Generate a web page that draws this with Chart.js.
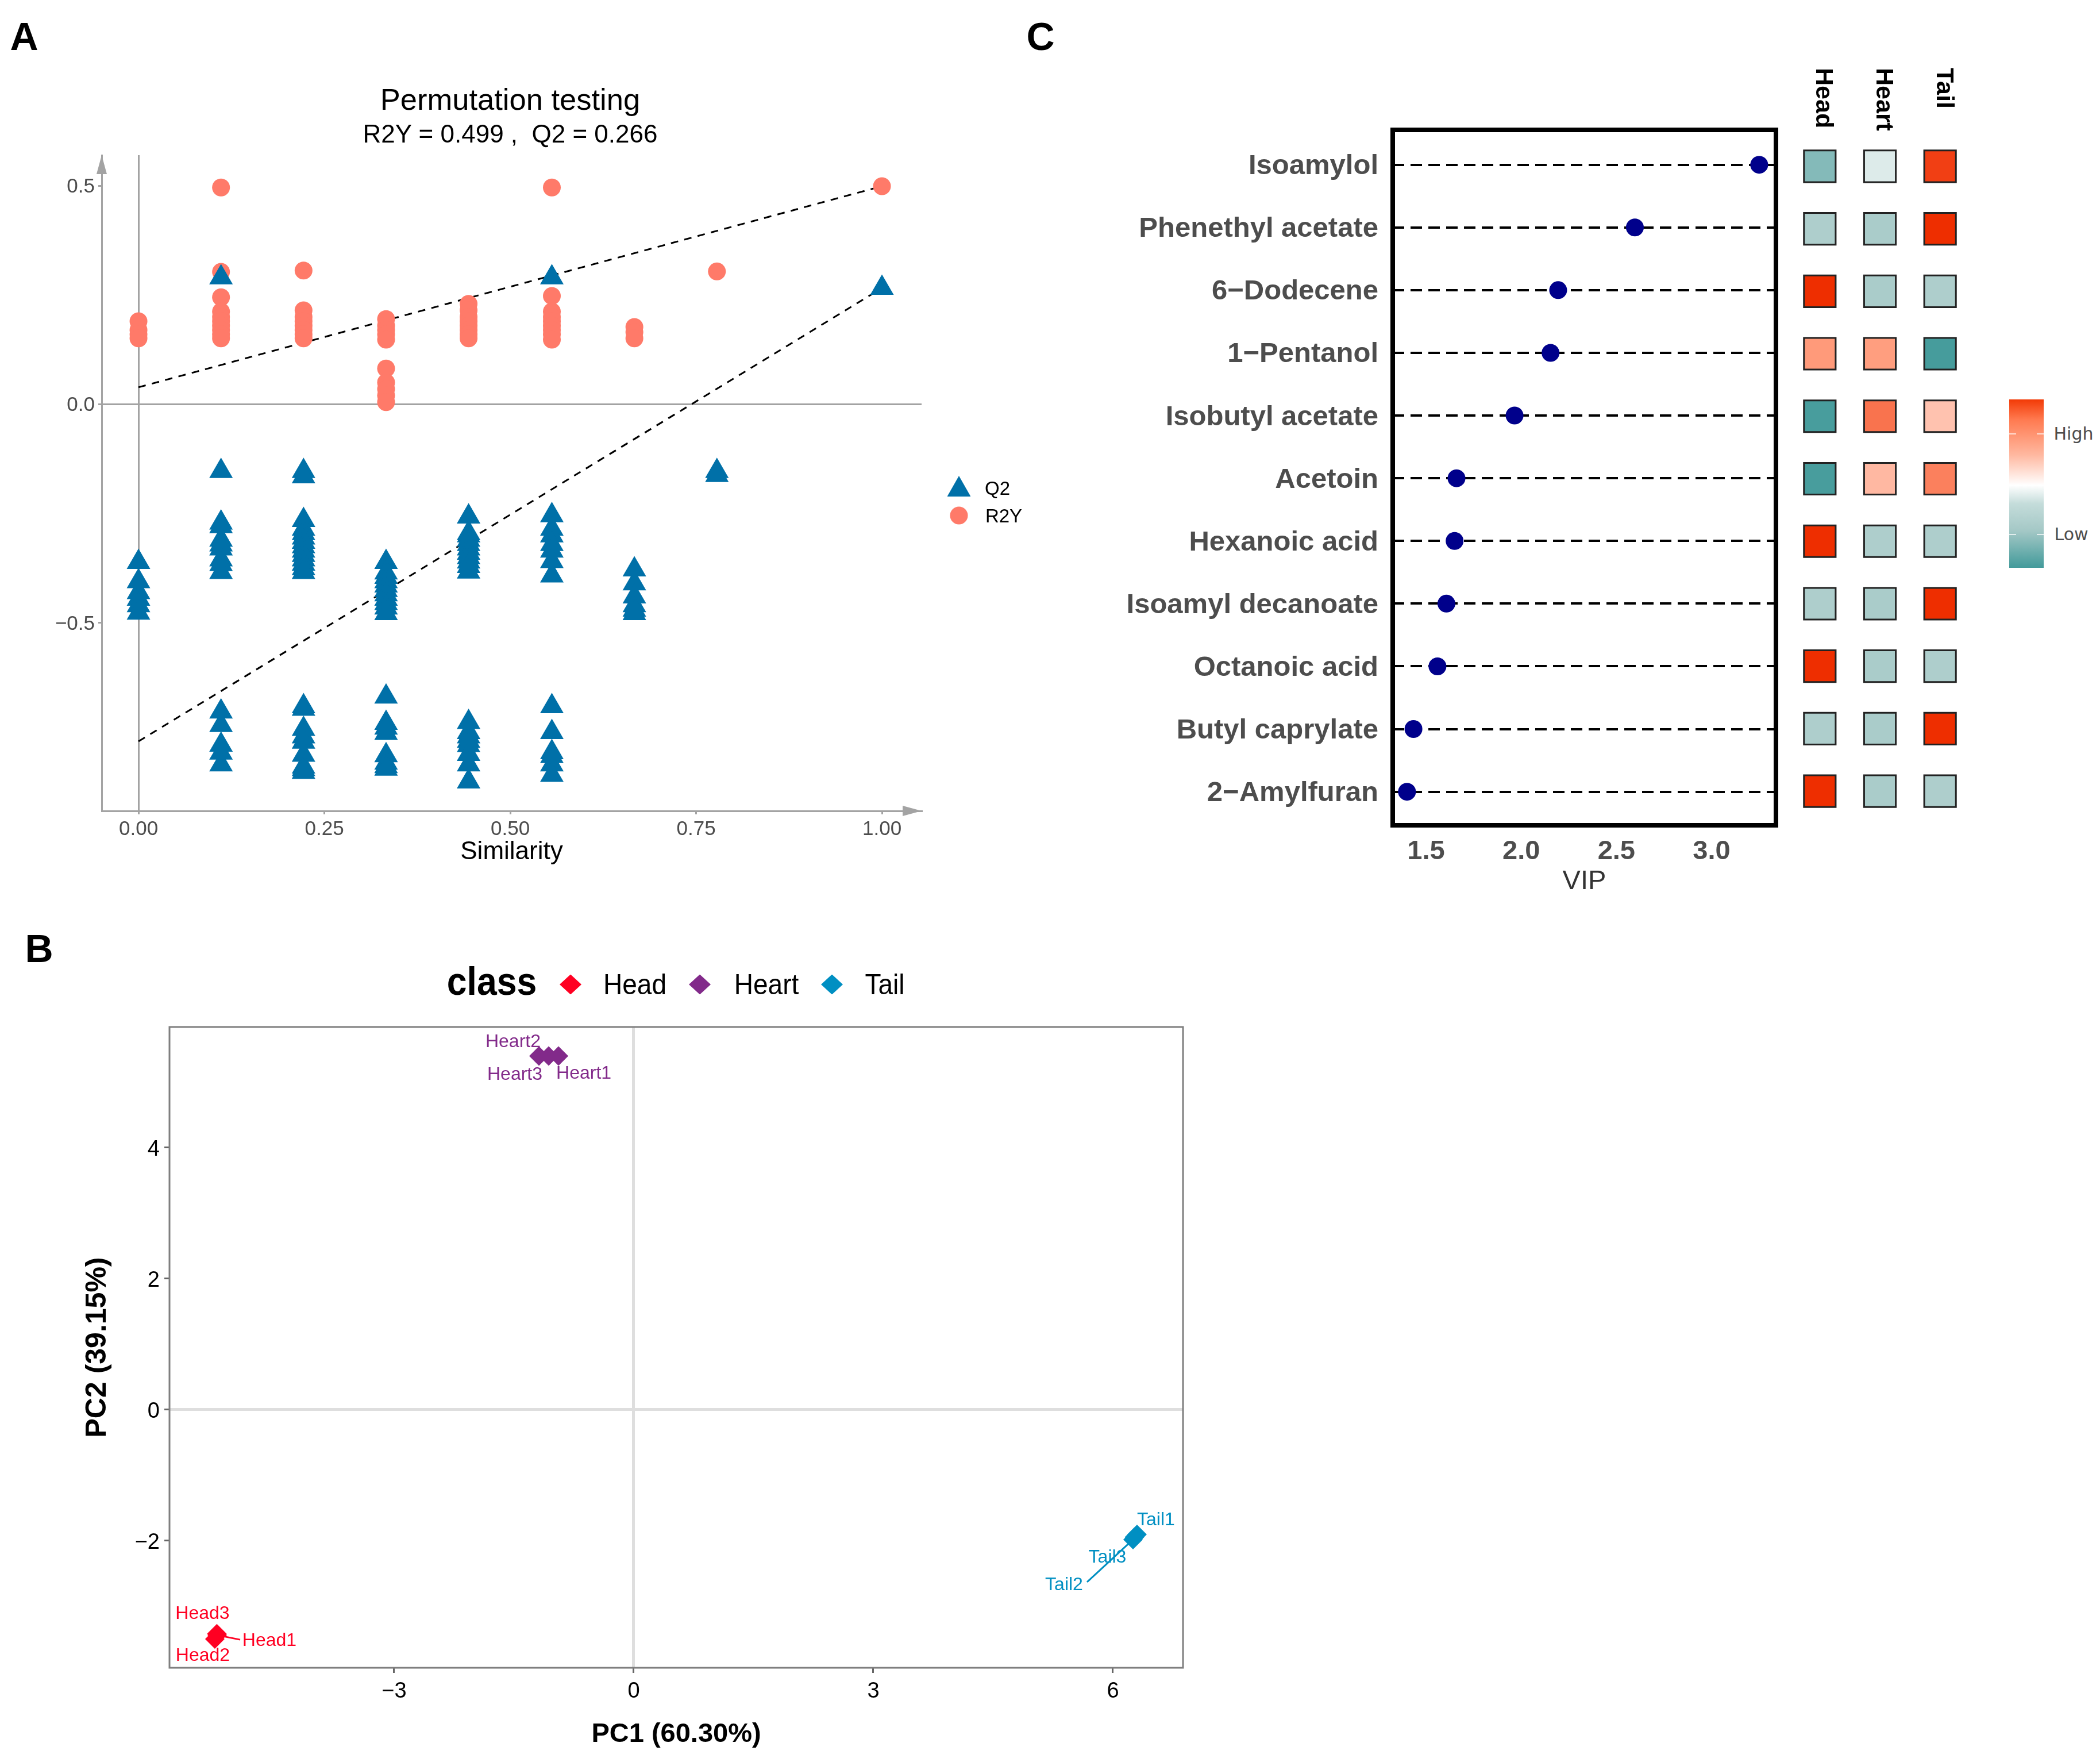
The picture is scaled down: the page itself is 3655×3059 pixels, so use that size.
<!DOCTYPE html>
<html>
<head>
<meta charset="utf-8">
<script src="https://cdn.jsdelivr.net/npm/chart.js@4/dist/chart.umd.js"></script>
<style>
  html, body { margin: 0; background: #fff; }
  body { position: relative; width: 3655px; height: 3059px; overflow: hidden; font-family: "Liberation Sans", sans-serif; }
  canvas { position: absolute; }
  .t { position: absolute; white-space: pre; transform: translate(-50%, -50%); line-height: 1; }
  .key { position: absolute; transform: translate(-50%, -50%); }
  .tri { clip-path: polygon(50% 0, 100% 100%, 0 100%); }
  .dia { clip-path: polygon(50% 0, 100% 50%, 50% 100%, 0 50%); }
  .dot { border-radius: 50%; }
</style>
</head>
<body>
<canvas id="permChart"></canvas>
<canvas id="pcaChart"></canvas>
<canvas id="vipChart"></canvas>
<canvas id="heatChart"></canvas>
<script>
// panel A: permutation test
const similarity = [0, 0.111, 0.222, 0.333, 0.444, 0.556, 0.667, 0.778, 1];
const r2yValues = [
  [0.19, 0.17, 0.16, 0.151],
  [0.496, 0.303, 0.245, 0.212, 0.2, 0.19, 0.18, 0.17, 0.16, 0.151],
  [0.306, 0.215, 0.2, 0.19, 0.18, 0.17, 0.16, 0.151],
  [0.195, 0.18, 0.17, 0.16, 0.148, 0.082, 0.05, 0.035, 0.02, 0.005],
  [0.23, 0.215, 0.2, 0.19, 0.18, 0.17, 0.16, 0.151],
  [0.496, 0.248, 0.212, 0.2, 0.19, 0.18, 0.17, 0.16, 0.148],
  [0.177, 0.165, 0.151],
  [0.304],
  [0.499]
];
const q2Values = [
  [-0.361, -0.405, -0.43, -0.445, -0.46, -0.477],
  [0.29, -0.153, -0.271, -0.279, -0.31, -0.321, -0.33, -0.355, -0.366, -0.384, -0.703, -0.734, -0.779, -0.797, -0.824],
  [-0.153, -0.165, -0.265, -0.285, -0.295, -0.305, -0.315, -0.325, -0.335, -0.345, -0.355, -0.365, -0.375, -0.384, -0.691, -0.697, -0.743, -0.76, -0.772, -0.802, -0.829, -0.835, -0.841],
  [-0.361, -0.385, -0.395, -0.405, -0.415, -0.425, -0.435, -0.445, -0.455, -0.465, -0.478, -0.669, -0.729, -0.74, -0.752, -0.803, -0.82, -0.828, -0.834],
  [-0.257, -0.295, -0.3, -0.31, -0.32, -0.33, -0.34, -0.35, -0.36, -0.37, -0.383, -0.727, -0.75, -0.76, -0.77, -0.78, -0.8, -0.824, -0.863],
  [0.29, -0.254, -0.285, -0.3, -0.32, -0.335, -0.359, -0.392, -0.691, -0.75, -0.796, -0.805, -0.824, -0.848],
  [-0.378, -0.41, -0.44, -0.46, -0.47, -0.478],
  [-0.153, -0.162],
  [0.266]
];
const r2yFit = [0.039, 0.499];
const q2Fit = [-0.771, 0.266];
const permXTicks = [0, 0.25, 0.5, 0.75, 1];
const permYTicks = [-0.5, 0, 0.5];

// panel B: PCA
const pcaGroups = ["Head", "Heart", "Tail"];
const pcaNames = [["Head1", "Head2", "Head3"], ["Heart1", "Heart2", "Heart3"], ["Tail1", "Tail2", "Tail3"]];
const pc1Values = [[-5.216, -5.245, -5.22], [-0.942, -1.065, -1.187], [6.302, 6.252, 6.27]];
const pc2Values = [[-3.44, -3.5, -3.42], [5.4, 5.4, 5.4], [-1.904, -1.982, -1.945]];
const pcaXTicks = [-3, 0, 3, 6];
const pcaYTicks = [-2, 0, 2, 4];

// panel C: VIP and heat cells
const compounds = ["Isoamylol", "Phenethyl acetate", "6−Dodecene", "1−Pentanol", "Isobutyl acetate", "Acetoin", "Hexanoic acid", "Isoamyl decanoate", "Octanoic acid", "Butyl caprylate", "2−Amylfuran"];
const vipValues = [3.25, 2.597, 2.194, 2.154, 1.965, 1.66, 1.65, 1.607, 1.56, 1.434, 1.4];
const vipTicks = [1.5, 2, 2.5, 3];
const heatColumns = ["Head", "Heart", "Tail"];
const heatHead = [-0.65, -0.43, 1, 0.5, -0.97, -0.97, 1, -0.43, 1, -0.43, 1];
const heatHeart = [-0.18, -0.45, -0.45, 0.48, 0.68, 0.35, -0.43, -0.45, -0.45, -0.45, -0.45];
const heatTail = [0.92, 1, -0.43, -0.98, 0.3, 0.62, -0.43, 1, -0.43, 1, -0.43];

const GREY = "#a3a3a3", TXT = "#4d4d4d";
const groupColors = ["#ff0022", "#822a8a", "#008fc2"];
Chart.defaults.font.family = '"Liberation Sans", sans-serif';
Chart.defaults.animation = false;
Chart.defaults.devicePixelRatio = 1;
Chart.defaults.responsive = false;
Chart.defaults.layout.autoPadding = false; // plot areas are pinned, no room made for the big points

// put a canvas on the page so that the plot area lands on rect {l,t,r,b}
// margins must be wider than half a tick label or chart.js moves the plot area in
function place(id, rect, m) {
  const c = document.getElementById(id);
  c.width = rect.r - rect.l + m.l + m.r;
  c.height = rect.b - rect.t + m.t + m.b;
  c.style.left = (rect.l - m.l) + "px";
  c.style.top = (rect.t - m.t) + "px";
  return c;
}
const fixW = w => s => { s.width = w; };
const fixH = h => s => { s.height = h; };
const useTicks = vals => s => { s.ticks = vals.map(v => ({ value: v })); };
const minus = s => String(s).replace("-", "−");

function addText(txt, x, y, css) {
  const d = document.createElement("div");
  d.className = "t";
  d.textContent = txt;
  d.style.left = x + "px";
  d.style.top = y + "px";
  d.style.cssText += css;
  document.body.appendChild(d);
  return d;
}
function addKey(cls, x, y, w, h, color) {
  const d = document.createElement("div");
  d.className = "key " + cls;
  d.style.cssText = `left:${x}px;top:${y}px;width:${w}px;height:${h}px;background:${color}`;
  document.body.appendChild(d);
}

// ---------- A ----------
const permRect = { l: 177, t: 270, r: 1604, b: 1411 };
const permM = { l: 120, t: 60, r: 60, b: 102 };
const flat = lists => lists.flatMap((vals, i) => vals.map(v => ({ x: similarity[i], y: v })));

const axisArrows = {
  id: "axisArrows",
  afterDatasetsDraw(chart) {
    const { ctx, chartArea: a } = chart;
    ctx.save();
    ctx.fillStyle = GREY;
    ctx.beginPath();
    ctx.moveTo(a.left, a.top); ctx.lineTo(a.left - 9, a.top + 33); ctx.lineTo(a.left + 9, a.top + 33);
    ctx.closePath(); ctx.fill();
    ctx.beginPath();
    ctx.moveTo(a.right, a.bottom); ctx.lineTo(a.right - 33, a.bottom - 9); ctx.lineTo(a.right - 33, a.bottom + 9);
    ctx.closePath(); ctx.fill();
    ctx.restore();
  }
};
const fitLine = vals => ({
  data: [{ x: 0, y: vals[0] }, { x: 1, y: vals[1] }],
  showLine: true, pointRadius: 0, borderColor: "#000", borderWidth: 3, borderDash: [13, 11], clip: false
});
new Chart(place("permChart", permRect, permM), {
  type: "scatter",
  data: {
    datasets: [
      { label: "Q2", data: flat(q2Values), pointStyle: "triangle", pointRadius: 23.7, backgroundColor: "#0070a8", borderWidth: 0, clip: false },
      { label: "R2Y", data: flat(r2yValues), pointStyle: "circle", pointRadius: 15.5, backgroundColor: "#ff7a69", borderWidth: 0, clip: false },
      fitLine(r2yFit),
      fitLine(q2Fit)
    ]
  },
  options: {
    layout: { padding: { left: 0, top: permM.t, right: permM.r, bottom: 0 } },
    plugins: { legend: { display: false }, tooltip: { enabled: false } },
    scales: {
      x: {
        type: "linear", min: -0.0495, max: 1.0533, afterFit: fixH(permM.b), afterBuildTicks: useTicks(permXTicks),
        border: { color: GREY, width: 3 },
        grid: { color: c => c.tick && c.tick.value === 0 ? GREY : "rgba(0,0,0,0)", lineWidth: 3, tickColor: GREY, tickLength: 6 },
        ticks: { color: TXT, font: { size: 35 }, padding: 5, maxRotation: 0, callback: v => v.toFixed(2) },
        title: { display: true, text: "Similarity", color: "#000", font: { size: 44 }, padding: { top: 0, bottom: 4 } }
      },
      y: {
        min: -0.93, max: 0.57, afterFit: fixW(permM.l), afterBuildTicks: useTicks(permYTicks),
        border: { color: GREY, width: 3 },
        grid: { color: c => c.tick && c.tick.value === 0 ? GREY : "rgba(0,0,0,0)", lineWidth: 3, tickColor: GREY, tickLength: 6 },
        ticks: { color: TXT, font: { size: 35 }, padding: 6, labelOffset: 2, callback: v => minus(v.toFixed(1)) }
      }
    }
  },
  plugins: [axisArrows]
});
addText("Permutation testing", 888, 173, "font-size:52.5px;color:#000");
addText("R2Y = 0.499 ,  Q2 = 0.266", 888, 233, "font-size:44px;color:#000");
addKey("tri", 1669, 846, 41, 36, "#0070a8");
addText("Q2", 1736, 849, "font-size:33px;color:#000");
addKey("dot", 1669, 897, 31, 31, "#ff7a69");
addText("R2Y", 1747, 897, "font-size:33px;color:#000");

// ---------- B ----------
const pcaRect = { l: 295, t: 1787, r: 2059, b: 2902 };
const pcaM = { l: 155, t: 60, r: 60, b: 150 };
// label placement relative to each point, in pixels
const labelOffsets = {
  Head1: [91, 10], Head2: [-21, 29], Head3: [-25, -35],
  Heart1: [44, 31], Heart2: [-62, -24], Heart3: [-42, 33],
  Tail1: [33, -25], Tail2: [-120, 79], Tail3: [-47, 35]
};
const connectors = { Head1: [40, 8], Tail2: [-80, 74] };

const pcaLabels = {
  id: "pcaLabels",
  afterDatasetsDraw(chart) {
    const { ctx, scales } = chart;
    ctx.save();
    ctx.font = '32px "Liberation Sans"';
    ctx.textAlign = "center";
    ctx.textBaseline = "middle";
    pcaGroups.forEach((g, gi) => {
      ctx.fillStyle = ctx.strokeStyle = groupColors[gi];
      ctx.lineWidth = 3;
      pcaNames[gi].forEach((name, i) => {
        const px = scales.x.getPixelForValue(pc1Values[gi][i]);
        const py = scales.y.getPixelForValue(pc2Values[gi][i]);
        if (connectors[name]) {
          ctx.beginPath();
          ctx.moveTo(px, py);
          ctx.lineTo(px + connectors[name][0], py + connectors[name][1]);
          ctx.stroke();
        }
        ctx.fillText(name, px + labelOffsets[name][0], py + labelOffsets[name][1]);
      });
    });
    ctx.restore();
  }
};
const plotFrame = (color, width) => ({
  id: "plotFrame",
  afterDraw(chart) {
    const { ctx, chartArea: a } = chart;
    ctx.save();
    ctx.strokeStyle = color;
    ctx.lineWidth = width;
    ctx.strokeRect(a.left, a.top, a.right - a.left, a.bottom - a.top);
    ctx.restore();
  }
});
new Chart(place("pcaChart", pcaRect, pcaM), {
  type: "scatter",
  data: {
    datasets: pcaGroups.map((g, gi) => ({
      label: g,
      data: pc1Values[gi].map((v, i) => ({ x: v, y: pc2Values[gi][i] })),
      pointStyle: "rectRot", pointRadius: 17, backgroundColor: groupColors[gi], borderWidth: 0
    }))
  },
  options: {
    layout: { padding: { left: 0, top: pcaM.t, right: pcaM.r, bottom: 0 } },
    plugins: { legend: { display: false }, tooltip: { enabled: false } },
    scales: {
      x: {
        type: "linear", min: -5.813, max: 6.878, afterFit: fixH(pcaM.b), afterBuildTicks: useTicks(pcaXTicks),
        border: { display: false },
        grid: { color: c => c.tick && c.tick.value === 0 ? "#dedede" : "rgba(0,0,0,0)", lineWidth: 5, tickColor: "#666", tickWidth: 3, tickLength: 9 },
        ticks: { color: "#000", font: { size: 38 }, padding: 10, maxRotation: 0, callback: v => minus(v) },
        title: { display: true, text: "PC1 (60.30%)", color: "#000", font: { size: 47, weight: "bold" }, padding: { top: 0, bottom: 6 } }
      },
      y: {
        min: -3.939, max: 5.842, afterFit: fixW(pcaM.l), afterBuildTicks: useTicks(pcaYTicks),
        border: { display: false },
        grid: { color: c => c.tick && c.tick.value === 0 ? "#dedede" : "rgba(0,0,0,0)", lineWidth: 5, tickColor: "#666", tickWidth: 3, tickLength: 9 },
        ticks: { color: "#000", font: { size: 38 }, padding: 8, labelOffset: 4, callback: v => minus(v) },
        title: { display: true, text: "PC2 (39.15%)", color: "#000", font: { size: 50, weight: "bold" }, padding: { top: 0, bottom: 0 } }
      }
    }
  },
  plugins: [pcaLabels, plotFrame("#7f7f7f", 3)]
});
addText("class", 856, 1707, "font-size:68px;font-weight:bold;color:#000;transform:translate(-50%,-50%) scaleX(.92)");
[[993, 1105], [1218, 1334], [1448, 1540]].forEach((p, i) => {
  addKey("dia", p[0], 1713, 38, 35, groupColors[i]);
  addText(pcaGroups[i], p[1], 1713, "font-size:50px;color:#000;transform:translate(-50%,-50%) scaleX(.92)");
});

// ---------- C ----------
const rowMin = -0.556, rowMax = 10.535;
const vipRect = { l: 2424, t: 226, r: 3091, b: 1436 };
const vipM = { l: 530, t: 60, r: 60, b: 130 };
new Chart(place("vipChart", vipRect, vipM), {
  type: "scatter",
  data: {
    datasets: [{
      label: "VIP",
      data: vipValues.map((v, i) => ({ x: v, y: i })),
      pointStyle: "circle", pointRadius: 15.5, backgroundColor: "#00008b", borderWidth: 0, clip: false
    }]
  },
  options: {
    layout: { padding: { left: 0, top: vipM.t, right: vipM.r, bottom: 0 } },
    plugins: { legend: { display: false }, tooltip: { enabled: false } },
    scales: {
      x: {
        type: "linear", min: 1.325, max: 3.338, afterFit: fixH(vipM.b), afterBuildTicks: useTicks(vipTicks),
        border: { display: false },
        grid: { display: false, drawTicks: false },
        ticks: { color: TXT, font: { size: 47, weight: "bold" }, padding: 18, maxRotation: 0, callback: v => v.toFixed(1) },
        title: { display: true, text: "VIP", color: "#333", font: { size: 47 }, padding: { top: 0, bottom: 4 } }
      },
      y: {
        reverse: true, min: rowMin, max: rowMax, afterFit: fixW(vipM.l), afterBuildTicks: useTicks(compounds.map((c, i) => i)),
        border: { display: false, dash: [20, 11] },
        grid: { color: "#000", lineWidth: 4, drawTicks: false },
        ticks: { color: TXT, font: { size: 49, weight: "bold" }, padding: 25, labelOffset: 3, callback: v => compounds[v] }
      }
    }
  },
  plugins: [plotFrame("#000", 8)]
});

// colour ramp of the heat cells, -1 .. 1
const rampStops = [[-1, [66, 154, 154]], [-0.45, [170, 204, 202]], [0, [255, 255, 255]], [0.5, [255, 154, 122]], [1, [238, 46, 0]]];
function heatColor(v) {
  for (let i = 1; i < rampStops.length; i++) {
    if (v <= rampStops[i][0]) {
      const [a, ca] = rampStops[i - 1], [b, cb] = rampStops[i];
      const f = (v - a) / (b - a);
      return `rgb(${ca.map((c, k) => Math.round(c + (cb[k] - c) * f)).join(",")})`;
    }
  }
  return "rgb(238,46,0)";
}
const heatRows = compounds.map((c, i) => [heatHead[i], heatHeart[i], heatTail[i]]);
const heatCells = heatRows.flatMap((row, i) => row.map((v, j) => ({ x: j, y: i, v })));

const columnHeads = {
  id: "columnHeads",
  afterDraw(chart) {
    const { ctx, scales } = chart;
    ctx.save();
    ctx.font = 'bold 43px "Liberation Sans"';
    ctx.fillStyle = "#000";
    ctx.textBaseline = "middle";
    ctx.textAlign = "left";
    heatColumns.forEach((name, j) => {
      ctx.save();
      // canvas starts at y=100, headers start at y=118 on the page
      ctx.translate(scales.x.getPixelForValue(j) + 6, 18);
      ctx.rotate(Math.PI / 2);
      ctx.fillText(name, 0, 0);
      ctx.restore();
    });
    ctx.restore();
  }
};
const heatRect = { l: 3115, t: 235, r: 3429, b: 1431 };
const heatM = { l: 0, t: 135, r: 10, b: 10 };
new Chart(place("heatChart", heatRect, heatM), {
  type: "scatter",
  data: {
    datasets: [{
      data: heatCells.map(c => ({ x: c.x, y: c.y })),
      pointStyle: "rect", pointRadius: 39,
      backgroundColor: heatCells.map(c => heatColor(c.v)),
      borderColor: "#222", borderWidth: 3, clip: false
    }]
  },
  options: {
    layout: { padding: { left: heatM.l, top: heatM.t, right: heatM.r, bottom: heatM.b } },
    plugins: { legend: { display: false }, tooltip: { enabled: false } },
    scales: {
      x: { type: "linear", min: -0.5, max: 2.5, display: false },
      y: { reverse: true, min: -0.5, max: 10.5, display: false }
    }
  },
  plugins: [columnHeads]
});

// colour bar
const bar = document.createElement("div");
bar.style.cssText = "position:absolute;left:3497px;top:695px;width:60px;height:293px;" +
  "background:linear-gradient(to bottom,#f23a06 0%,#ff7a50 12%,#ffb8a0 33%,#ffffff 51%,#c4dcda 62%,#a4c8c6 78%,#429a9a 100%)";
document.body.appendChild(bar);
[60, 235].forEach(y => {
  [0, 48].forEach(x => {
    const tick = document.createElement("div");
    tick.style.cssText = `position:absolute;left:${3497 + x}px;top:${695 + y - 1}px;width:12px;height:2px;background:#fff;opacity:.7`;
    document.body.appendChild(tick);
  });
});
addText("High", 3609, 755, `font-size:30px;color:${TXT};font-family:'DejaVu Sans'`);
addText("Low", 3605, 930, `font-size:30px;color:${TXT};font-family:'DejaVu Sans'`);

// panel letters
addText("A", 42, 63, "font-size:68px;font-weight:bold;color:#000");
addText("B", 68, 1650, "font-size:68px;font-weight:bold;color:#000");
addText("C", 1811, 63, "font-size:68px;font-weight:bold;color:#000");
</script>
</body>
</html>
